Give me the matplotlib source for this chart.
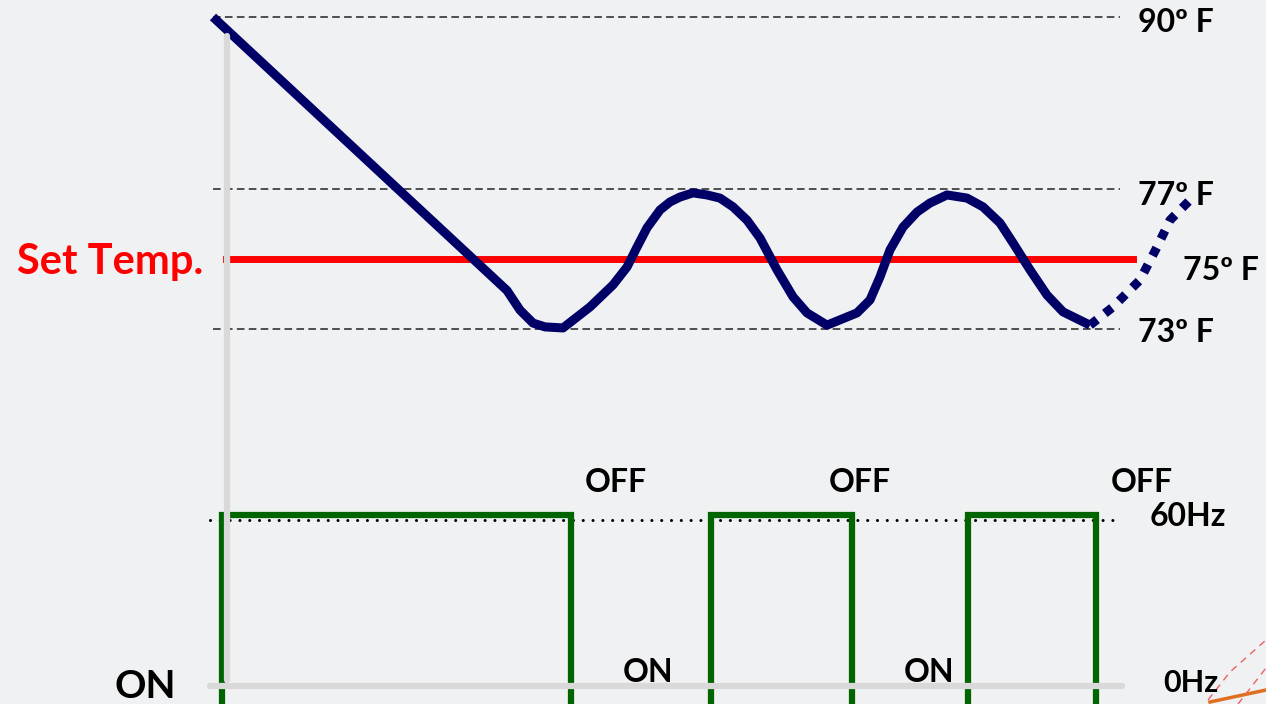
import numpy as np
import matplotlib
matplotlib.use("Agg")
import matplotlib.pyplot as plt
import matplotlib.transforms as mtransforms

W, H = 1266, 704
BG = "#f0f1f3"
NAVY = "#000066"
GREEN = "#006400"
plt.rcParams['font.family'] = ['Lato', 'DejaVu Sans']
plt.rcParams['font.weight'] = 'bold'

# room temperature (minutes, deg F) - compressor running
temp_t = [0.0, 29.4, 30.7, 32.0, 33.2, 35.0, 37.7, 40.0, 41.4, 42.4, 43.4, 44.7, 45.7, 46.7, 48.0,
          49.4, 50.7, 52.0, 53.4, 54.7, 56.4, 58.0, 59.4, 61.4, 64.4, 65.7, 66.7, 67.7, 69.0,
          70.4, 71.7, 73.4, 75.4, 77.0, 78.7, 80.0, 81.7, 83.4, 85.0, 87.7]
temp_f = [90.0, 74.1, 73.54, 73.17, 73.06, 73.03, 73.63, 74.26, 74.77, 75.34, 75.89, 76.4, 76.63, 76.77, 76.89,
          76.83, 76.74, 76.49, 76.11, 75.6, 74.69, 73.92, 73.46, 73.11, 73.46, 73.83, 74.49, 75.26, 75.91,
          76.34, 76.6, 76.83, 76.74, 76.49, 76.03, 75.46, 74.69, 73.97, 73.49, 73.11]
# projected temperature after the last cycle
proj_t = [87.7, 90.0, 92.7, 94.4, 95.7, 98.2]
proj_f = [73.11, 73.63, 74.4, 75.34, 76.11, 76.83]

# compressor frequency (Hz)
comp_t = [0.9, 0.9, 35.8, 35.8, 49.8, 49.8, 63.9, 63.9, 75.5, 75.5, 88.3, 88.3]
comp_hz = [0, 60, 60, 0, 0, 60, 60, 0, 0, 60, 60, 0]

set_temp = 75
band = [73, 77, 90]
full_speed = 60
temp_labels = ["90º F", "77º F", "75º F", "73º F"]


def px(x, y):
    return x / W, 1 - y / H


# piecewise temperature scale: 73-77 F expanded, 77-90 F compressed
def t_fwd(T):
    T = np.asarray(T, dtype=float)
    y = np.where(T <= 77, 329 - 35 * (T - 73), 189 - (T - 77) * 172 / 13)
    return H - y


def t_inv(h):
    y = H - np.asarray(h, dtype=float)
    return np.where(y >= 189, 73 + (329 - y) / 35, 77 + (189 - y) * 13 / 172)


fig = plt.figure(figsize=(W / 100, H / 100), dpi=100, facecolor=BG)
xlim = (-21.3, (W - 213) / 10)

ax = fig.add_axes([0, 0, 1, 1])
ax.set_facecolor('none')
ax.set_yscale('function', functions=(t_fwd, t_inv))
ax.set_xlim(*xlim)
ax.set_ylim(float(t_inv(0)), float(t_inv(H)))
ax.axis('off')

axf = fig.add_axes([0, 0, 1, 1], sharex=ax)
axf.set_facecolor('none')
axf.set_ylim(12 / 3.35, 12 / 3.35 + H / 3.35)
axf.axis('off')

# axis rules of the diagram
fig.add_artist(plt.Line2D([227 / W, 227 / W], [1 - 36 / H, 1 - 680 / H], color='#d9d9d9', lw=4.5,
                          solid_capstyle='round'))
fig.add_artist(plt.Line2D([210 / W, 1122 / W], [1 - 686 / H, 1 - 686 / H], color='#d9d9d9', lw=4.5,
                          solid_capstyle='round'))

for b in band:
    ax.plot([0, 90.7], [b, b], color='#222222', lw=1.1, ls=(0, (5, 2.8)))

ax.plot([1.3, 92.0], [set_temp, set_temp], color='#ff0000', lw=5)
ax.plot(temp_t, temp_f, color=NAVY, lw=6.5, solid_joinstyle='round', solid_capstyle='butt')
ax.plot(proj_t, proj_f, color=NAVY, lw=6.5, ls=(0, (1, 1.1)), dash_capstyle='butt')

dot_tr = mtransforms.offset_copy(axf.transData, fig=fig, x=0, y=-5, units='dots')
axf.plot([-0.3, 90.2], [full_speed, full_speed], color='black', lw=2.2, ls=(0, (0.01, 3.2)),
         dash_capstyle='round', transform=dot_tr)
axf.plot(comp_t, comp_hz, color=GREEN, lw=4.5, solid_joinstyle='miter', clip_on=False)

# labels
for txt, (x, y) in zip(temp_labels, [(1138, 22), (1138, 196), (1183, 270), (1138, 332)]):
    fig.text(*px(x, y), txt, fontsize=23, fontweight='bold', ha='left', va='center')

fig.text(*px(17, 262), "Set Temp.", fontsize=30, fontweight='bold', color='#ff0000', ha='left', va='center')
for x in [616, 860, 1142]:
    fig.text(*px(x, 482), "OFF", fontsize=23, fontweight='bold', ha='center', va='center')
for x in [648, 929]:
    fig.text(*px(x, 673), "ON", fontsize=23, fontweight='bold', ha='center', va='center')
fig.text(*px(145, 686), "ON", fontsize=28, fontweight='bold', ha='center', va='center')
fig.text(*px(1150, 517), "60Hz", fontsize=23, fontweight='bold', ha='left', va='center')
fig.text(*px(1163, 683), "0Hz", fontsize=22, fontweight='bold', ha='left', va='center')

# edge of neighbouring drawing
fig.add_artist(plt.Line2D([1210 / W, 1266 / W], [1 - 702 / H, 1 - 690 / H], color='#e07020', lw=2.5))
fig.add_artist(plt.Line2D([1208 / W, 1230 / W, 1266 / W], [1 - 700 / H, 1 - 672 / H, 1 - 640 / H],
                          color='#f06060', lw=1, ls=(0, (5, 4))))
fig.add_artist(plt.Line2D([1238 / W, 1266 / W], [1 - 704 / H, 1 - 668 / H],
                          color='#f06060', lw=1, ls=(0, (5, 4))))

fig.savefig('out.png', dpi=100, facecolor=BG)
